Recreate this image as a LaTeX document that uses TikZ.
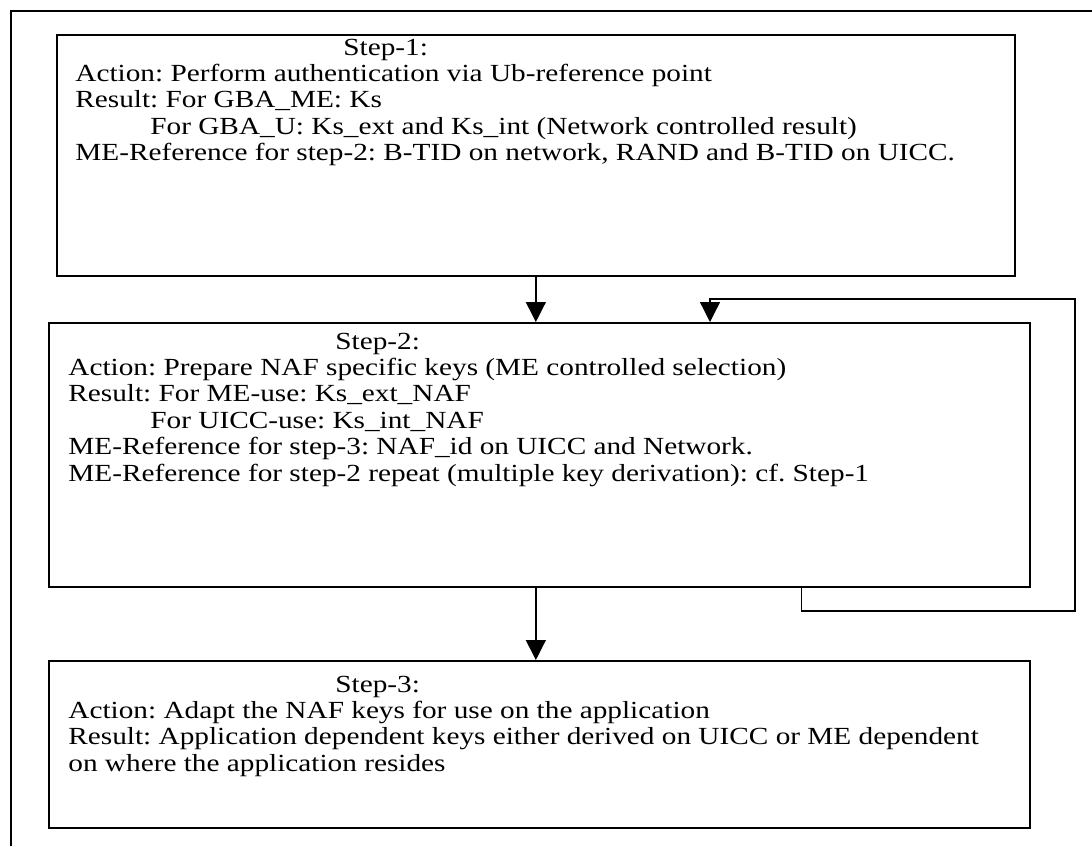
\documentclass[tikz,border=0pt]{standalone}
\usepackage{fontspec}
\setmainfont{Liberation Serif}[FakeStretch=1.19]
\usetikzlibrary{arrows.meta,positioning}

\begin{document}
\frenchspacing
\begin{tikzpicture}[x=0.5pt, y=-0.5pt,
  font=\fontsize{12.3}{13.2}\selectfont,
  stepbox/.style={draw, line width=0.85pt, inner sep=0pt, anchor=north west},
  steptext/.style={inner sep=0pt, anchor=north west, align=left},
  flow/.style={-{Triangle[length=10pt,width=10pt]}, line width=0.65pt}]
\useasboundingbox (0,0) rectangle (1092,846);
% Outer frame (cut at right and bottom)
\draw[line width=1.2pt] (1092,11) -- (11,11) -- (11,846);
% Boxes
\node[stepbox, minimum width=479pt, minimum height=120.5pt] (step1) at (56,34) {};
\node[stepbox, minimum width=490.5pt, minimum height=132pt] (step2) at (48,322) {};
\node[stepbox, minimum width=490.5pt, minimum height=83.5pt] (step3) at (48,660) {};
% Texts
\node[steptext] (step1text) at (75,38.4) {\hspace*{134pt}Step-1:\\
  Action: Perform authentication via Ub-reference point\\
  Result: For GBA\_ME: Ks\\
  \hspace*{37.5pt}For GBA\_U: Ks\_ext and Ks\_int (Network controlled result)\\
  ME-Reference for step-2: B-TID on network, RAND and B-TID on UICC.};
\node[steptext] (step2text) at (68,332.4) {\hspace*{133.5pt}Step-2:\\
  Action: Prepare NAF specific keys (ME controlled selection)\\
  Result: For ME-use: Ks\_ext\_NAF\\
  \hspace*{41pt}For UICC-use: Ks\_int\_NAF\\
  ME-Reference for step-3: NAF\_id on UICC and Network.\\
  ME-Reference for step-2 repeat (multiple key derivation): cf. Step-1};
\node[steptext] (step3text) at (68,675.4) {\hspace*{133.5pt}Step-3:\\
  Action: Adapt the NAF keys for use on the application\\
  Result: Application dependent keys either derived on UICC or ME dependent\\
  on where the application resides};
% Connectors
\coordinate (loopout) at (801.7,586);
\coordinate (loopbot) at (1075,611);
\coordinate (looptop) at (1075,299);
\coordinate (loopin) at (710,299);
\draw[flow] (step1.south) -- (step1.south |- step2.north);
\draw[flow] (step1.south |- step2.south) -- (step1.south |- step3.north);
\draw[flow] (loopout) |- (loopbot) -- (looptop) -- (loopin) -- (loopin |- step2.north);
\end{tikzpicture}
\end{document}
